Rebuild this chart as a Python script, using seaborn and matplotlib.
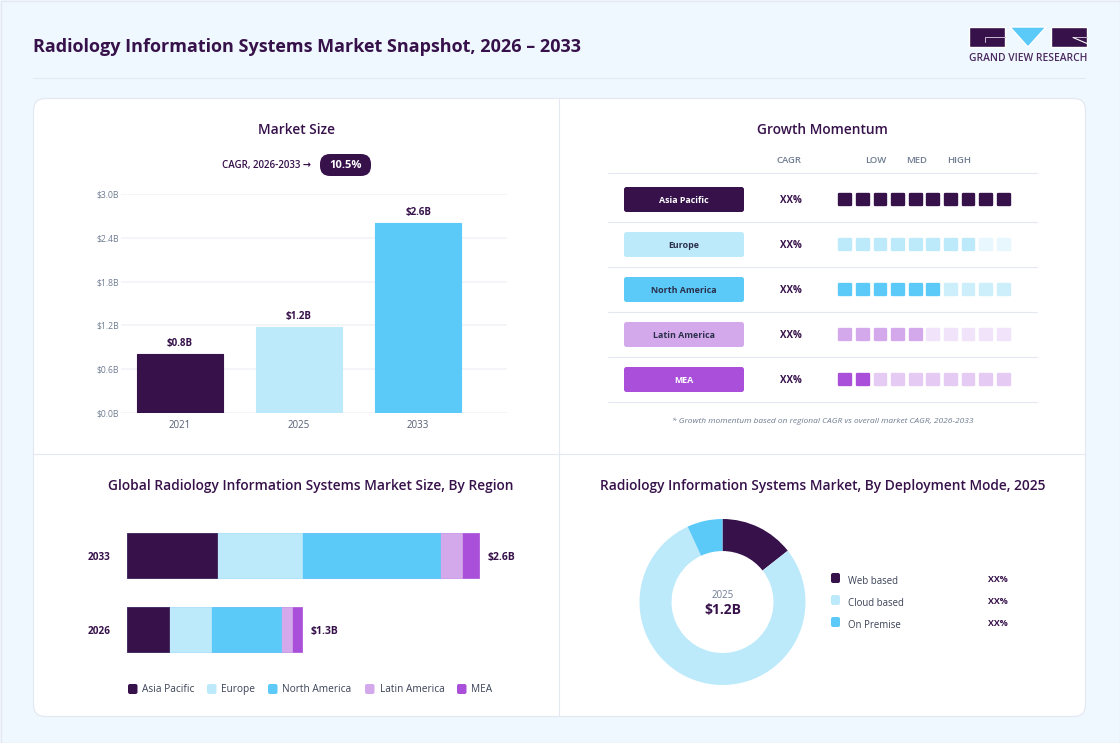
import numpy as np
import pandas as pd
import matplotlib
matplotlib.use('Agg')
import matplotlib.pyplot as plt
import seaborn as sns
from matplotlib.patches import FancyBboxPatch, Polygon, Rectangle

# chart data
size_years = ['2021', '2025', '2033']
size_values = [0.81, 1.18, 2.6]
size_ticks = [0.0, 0.6, 1.2, 1.8, 2.4, 3.0]
size_tick_labels = ['$0.0B', '$0.6B', '$1.2B', '$1.8B', '$2.4B', '$3.0B']

regions = ['Asia Pacific', 'Europe', 'North America', 'Latin America', 'MEA']
region_years = ['2033', '2026']
region_2033 = [0.667, 0.624, 1.016, 0.162, 0.131]
region_2026 = [0.31, 0.308, 0.517, 0.086, 0.071]

momentum_filled = [10, 8, 6, 5, 2]
momentum_cells = 10

deploy_labels = ['Web based', 'Cloud based', 'On Premise']
deploy_share = [14.4, 78.7, 6.9]

# colours
BG = '#F0F8FF'
DARK = '#36114A'
PALE = '#BDEAFB'
BLUE = '#5BCAF9'
LILAC = '#D3A9EC'
PURPLE = '#A94FD9'
LINE = '#E3E8F2'
GRID = '#F0F3F8'
SLATE = '#6F7C91'
region_colors = [DARK, PALE, BLUE, LILAC, PURPLE]
region_tints = ['#36114A', '#E8F6FD', '#CDEFFC', '#F1E3F9', '#E5CAF3']
pill_text = ['white', '#2B2F4A', '#2B2F4A', '#2B2F4A', 'white']

W, H = 1120, 743

sns.set_theme(style='white')
plt.rcParams['font.family'] = ['Open Sans', 'DejaVu Sans']

fig = plt.figure(figsize=(W / 100, H / 100), dpi=100, facecolor=BG)


def px_axes(x0, y0, x1, y1):
    ax = fig.add_axes([x0 / W, 1 - y1 / H, (x1 - x0) / W, (y1 - y0) / H])
    ax.patch.set_alpha(0)
    return ax


# page layer in pixel coordinates
page = px_axes(0, 0, W, H)
page.set_xlim(0, W)
page.set_ylim(H, 0)
page.axis('off')


def rbox(x0, y0, x1, y1, r, color, ec='none', lw=0, z=1):
    page.add_patch(FancyBboxPatch((x0 + r, y0 + r), x1 - x0 - 2 * r, y1 - y0 - 2 * r,
                                  boxstyle=f'round,pad={r},rounding_size={r}',
                                  fc=color, ec=ec, lw=lw, zorder=z))


def label(x, y, s, size, color=DARK, weight='normal', ha='left', style='normal'):
    page.text(x, y + 0.7, s, fontsize=size, color=color, fontweight=weight, ha=ha, va='center',
              fontstyle=style, zorder=5)


page.add_patch(Rectangle((0.5, 0.5), W - 1, H - 1, fc='none', ec=LINE, lw=1))
label(33, 46, 'Radiology Information Systems Market Snapshot, 2026 – 2033', 12.95, weight='bold')
page.plot([33, 1085], [77.8, 77.8], color=LINE, lw=0.8)

# logo
page.add_patch(Rectangle((969, 27), 36, 20, fc=DARK))
page.add_patch(Polygon([(1010, 27), (1046, 27), (1028, 47)], fc=BLUE))
page.add_patch(Rectangle((1051, 27), 36, 20, fc=DARK))
page.plot([1005, 985, 985], [36.7, 36.7, 41.5], color='#C9BBD2', lw=0.7)
page.plot([1073, 1087], [36.5, 36.5], color='#C9BBD2', lw=0.7)
page.plot([1073, 1087], [37.5, 43.5], color='white', lw=0.8)
label(1028, 58, 'GRAND VIEW RESEARCH', 7.4, color='#4A2A5E', weight='semibold', ha='center')

# card and dividers
rbox(33.5, 98.5, 1085.5, 716.5, 12, 'white', ec=LINE, lw=0.9, z=0)
page.plot([558.8, 558.8], [99, 716], color=LINE, lw=0.8, zorder=1)
page.plot([34, 1085], [453.8, 453.8], color=LINE, lw=0.8, zorder=1)

# panel titles
label(296.5, 129, 'Market Size', 9.9, weight='semibold', ha='center')
label(822.5, 129, 'Growth Momentum', 9.9, weight='semibold', ha='center')
label(310.5, 485, 'Global Radiology Information Systems Market Size, By Region', 9.9,
      weight='semibold', ha='center')
label(823, 485, 'Radiology Information Systems Market, By Deployment Mode, 2025', 9.9,
      weight='semibold', ha='center')

# market size bars
label(222, 165, 'CAGR, 2026-2033 →', 7, weight='semibold')
rbox(320, 154, 371, 176, 10, DARK, z=2)
label(345.5, 164.5, '10.5%', 8, color='white', weight='bold', ha='center')

ax = px_axes(120.5, 194, 507, 413)
sns.barplot(x=size_years, y=size_values, hue=size_years, palette=[DARK, PALE, BLUE],
            width=0.73, saturation=1, legend=False, ax=ax)
for p in ax.patches:
    p.set_edgecolor(p.get_facecolor())
    p.set_linewidth(0.8)
    p.set_joinstyle('round')
ax.set_xlim(-0.5, 2.5 + 29.5 / 119)
ax.set_ylim(0, 3)
ax.set_yticks(size_ticks, size_tick_labels)
ax.tick_params(axis='y', length=0, pad=1.2, labelsize=6.2, labelcolor=SLATE)
ax.tick_params(axis='x', length=0, pad=5, labelsize=7, labelcolor='#555F73')
ax.grid(axis='y', color=GRID, lw=1.1)
ax.set_axisbelow(True)
sns.despine(ax=ax, left=True, bottom=True)
for c in ax.containers:
    ax.bar_label(c, fmt='${:.1f}B', padding=3.4, fontsize=7, fontweight='bold', color=DARK)

# momentum table
for y in [172.8, 221.8, 266.8, 311.8, 356.8, 401.8]:
    page.plot([608, 1037], [y, y], color=LINE, lw=0.8, zorder=1)
label(789, 160, 'CAGR', 6.8, color=SLATE, weight='semibold', ha='center')
label(875.5, 160, 'LOW', 6.8, color=SLATE, weight='semibold', ha='center')
label(916.5, 160, 'MED', 6.8, color=SLATE, weight='semibold', ha='center')
label(959.5, 160, 'HIGH', 6.8, color=SLATE, weight='semibold', ha='center')
for i, name in enumerate(regions):
    yc = 199.5 + 45 * i
    rbox(624, yc - 12.5, 744, yc + 12.5, 2.5, region_colors[i], z=2)
    label(684, yc, name, 6.4, color=pill_text[i], weight='bold', ha='center')
    label(791, yc, 'XX%', 7, weight='bold', ha='center')
label(823, 420.5, '* Growth momentum based on regional CAGR vs overall market CAGR, 2026-2033',
      6, color=SLATE, ha='center', style='italic')

cells = pd.DataFrame([
    {'region': r, 'row': i, 'cell': j,
     'shade': region_colors[i] if j < momentum_filled[i] else region_tints[i]}
    for i, r in enumerate(regions) for j in range(momentum_cells)
])
ax = px_axes(836.5, 177, 1012.5, 402)
sns.scatterplot(data=cells, x='cell', y='row', hue='shade', palette={c: c for c in cells['shade'].unique()},
                marker='s', s=72, linewidth=1.7, legend=False, ax=ax)
coll = ax.collections[0]
coll.set_edgecolor(coll.get_facecolor())
coll.set_joinstyle('round')
ax.set_xlim(-0.5, 9.5)
ax.set_ylim(4.5, -0.5)
ax.axis('off')

# stacked region bars, cumulative layers drawn back to front
stack = pd.DataFrame({'2033': region_2033, '2026': region_2026}, index=regions).cumsum()
ax = px_axes(127, 518.5, 500, 666.5)
for name, color in zip(regions[::-1], region_colors[::-1]):
    sns.barplot(x=stack.loc[name, region_years].values, y=region_years, color=color, orient='y',
                width=0.61, saturation=1, ax=ax)
for p in ax.patches:
    p.set_edgecolor(p.get_facecolor())
    p.set_linewidth(0.5)
    p.set_joinstyle('round')
totals = ax.bar_label(ax.containers[0], fmt='${:.1f}B', padding=6, fontsize=7.5, fontweight='bold', color=DARK)
for t in totals:
    t.xyann = (t.xyann[0], t.xyann[1] - 1.2)
ax.set_xlim(0, 373 / 135.5)
ax.set_ylim(1.5, -0.5)
ax.set_xticks([])
ax.set_xlabel('')
ax.tick_params(axis='y', length=0, pad=12, labelsize=7.2, labelcolor=DARK)
for t in ax.get_yticklabels():
    t.set_fontweight('bold')
sns.despine(ax=ax, left=True, bottom=True)

for name, color, x in zip(regions, region_colors, [128, 207, 268, 365, 457]):
    rbox(x, 684, x + 9.5, 694, 2, color, z=2)
    label(x + 14.5, 689, name, 7.3, color='#3A4256')

# deployment donut
ax = px_axes(639.5, 519, 805.5, 685)
ax.pie(deploy_share, colors=[DARK, PALE, BLUE], startangle=90, counterclock=False,
       radius=1, wedgeprops={'width': 0.386, 'linewidth': 0})
ax.set_xlim(-1, 1)
ax.set_ylim(-1, 1)
label(722.5, 594.5, '2025', 7, color=SLATE, ha='center')
label(722.5, 609, '$1.2B', 10, weight='bold', ha='center')
for i, name in enumerate(deploy_labels):
    yc = 578 + 22 * i
    rbox(831, yc - 5, 840, yc + 5, 2, [DARK, PALE, BLUE][i], z=2)
    label(848.5, yc + 2.5, name, 6.9, color='#3A4256')
    label(997.5, yc + 1, 'XX%', 6.4, weight='bold', ha='center')

fig.savefig('out.png', dpi=100, facecolor=BG)
